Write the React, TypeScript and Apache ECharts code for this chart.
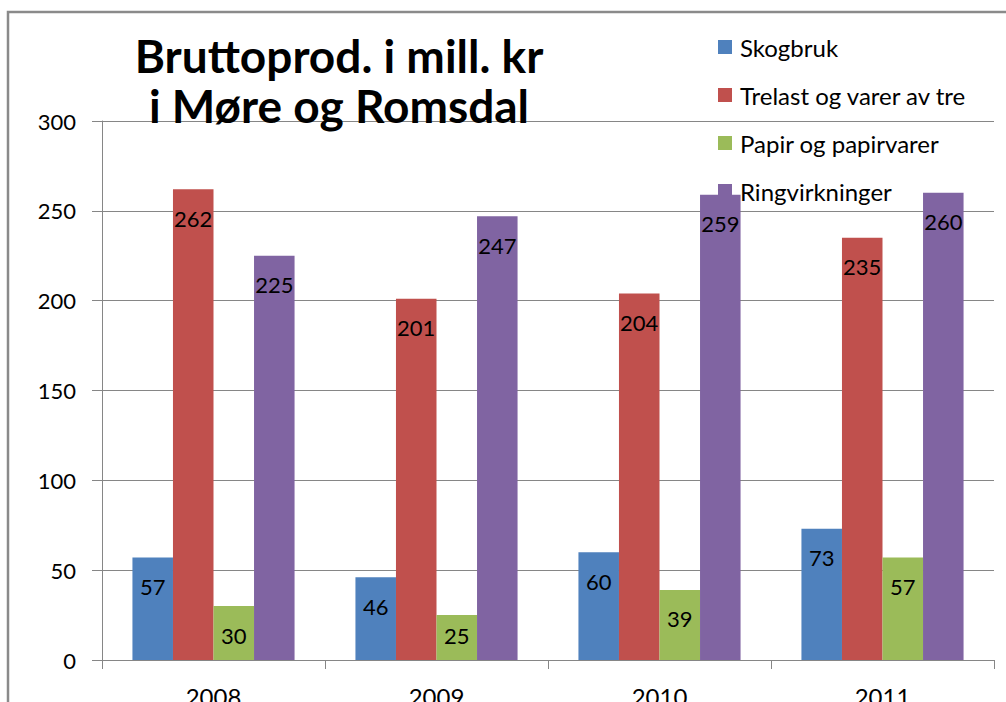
import React, { useEffect, useRef } from "react";
import * as echarts from "echarts";

const categories = ["2008", "2009", "2010", "2011"];
const seriesNames = ["Skogbruk", "Trelast og varer av tre", "Papir og papirvarer", "Ringvirkninger"];
const skogbruk = [57, 46, 60, 73];
const trelast = [262, 201, 204, 235];
const papir = [30, 25, 39, 57];
const ringvirkninger = [225, 247, 259, 260];
const yTicks = { min: 0, max: 300, interval: 50 };
const titleText = "Bruttoprod. i mill. kr\ni Møre og Romsdal";

const colors = ["#4F81BD", "#C0504D", "#9BBB59", "#8064A2"];
const FONT = "Lato, 'Open Sans', sans-serif";

export default function App() {
  const ref = useRef<HTMLDivElement>(null);
  useEffect(() => {
    if (!ref.current) return;
    const chart = echarts.init(ref.current, undefined, { renderer: "svg" });
    const values = [skogbruk, trelast, papir, ringvirkninger];
    const makeData = (arr: number[]) =>
      arr.map((v) => ({
        value: v,
        label: { distance: v < 28 ? 9 : 18 },
      }));
    chart.setOption({
      animation: false,
      backgroundColor: "#ffffff",
      color: colors,
      graphic: [
        {
          type: "rect",
          shape: { x: 8, y: 12, width: 1020, height: 720 },
          style: { fill: "none", stroke: "#8a8a8a", lineWidth: 2.5 },
          silent: true,
          z: -10,
        },
        {
          type: "text",
          x: 339,
          y: 30,
          z: 100,
          style: {
            text: titleText,
            font: `bold 46px ${FONT}`,
            fill: "#000000",
            textAlign: "center",
            textVerticalAlign: "top",
            lineHeight: 50,
          },
        },
      ],
      legend: {
        orient: "vertical",
        left: 713,
        top: 30,
        itemWidth: 14,
        itemHeight: 14,
        itemGap: 24,
        icon: "rect",
        textStyle: { fontFamily: FONT, fontSize: 24, color: "#000000", padding: [0, 0, 0, 3] },
        data: seriesNames,
      },
      grid: { left: 102, right: 12, top: 121, bottom: 42, outerBoundsMode: "none", containLabel: false },
      xAxis: {
        type: "category",
        data: categories,
        axisLine: { lineStyle: { color: "#868686", width: 1 } },
        axisTick: { show: true, length: 9, lineStyle: { color: "#868686" } },
        axisLabel: { fontFamily: FONT, fontSize: 24, color: "#000000", margin: 24 },
      },
      yAxis: {
        type: "value",
        min: yTicks.min,
        max: yTicks.max,
        interval: yTicks.interval,
        axisLine: { show: true, lineStyle: { color: "#868686", width: 1 } },
        axisTick: { show: true, length: 10, lineStyle: { color: "#868686" } },
        axisLabel: { fontFamily: FONT, fontSize: 22, color: "#000000", margin: 26 },
        splitLine: { show: true, lineStyle: { color: "#868686", width: 1 } },
      },
      series: seriesNames.map((name, i) => ({
        name,
        type: "bar",
        data: makeData(values[i]),
        barGap: "0%",
        barCategoryGap: "27.3%",
        label: {
          show: true,
          position: "insideTop",
          fontFamily: FONT,
          fontSize: 22,
          color: "#000000",
        },
      })),
    });
    return () => chart.dispose();
  }, []);
  return (
    <div
      ref={ref}
      style={{ position: "absolute", left: 0, top: 0, width: 1006, height: 702, background: "#fff" }}
    />
  );
}
